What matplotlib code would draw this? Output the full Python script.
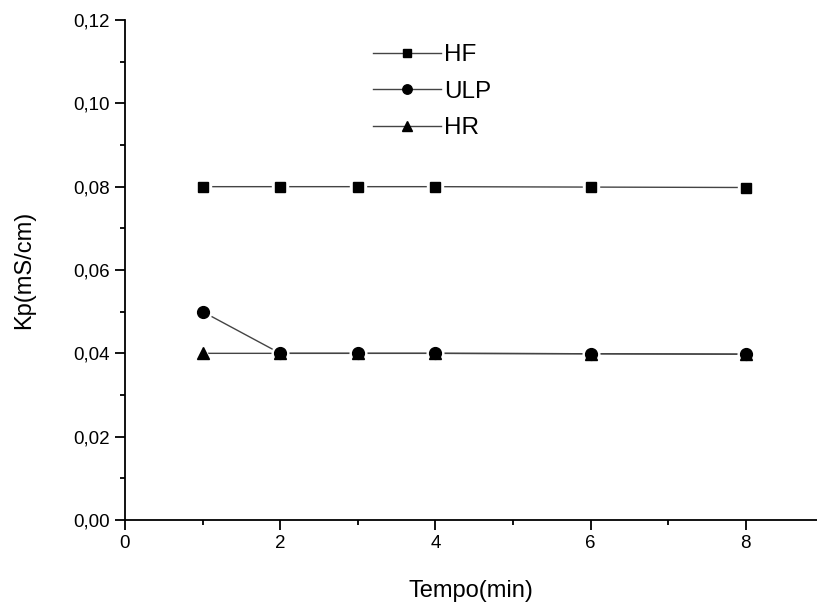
import matplotlib
matplotlib.use("Agg")
import matplotlib.pyplot as plt
from matplotlib.ticker import MultipleLocator, FuncFormatter

plt.rcParams['font.family'] = ['Liberation Sans', 'DejaVu Sans']

tempo = [1, 2, 3, 4, 6, 8]
hf = [0.0800, 0.0800, 0.0800, 0.0800, 0.0799, 0.0798]
ulp = [0.0500, 0.0400, 0.0400, 0.0400, 0.0399, 0.0398]
hr = [0.0400, 0.0400, 0.0400, 0.0400, 0.0399, 0.0398]
series = [("HF", hf, "s", 7.5), ("ULP", ulp, "o", 8.5), ("HR", hr, "^", 8.5)]

fig = plt.figure(figsize=(8.17, 6.05), dpi=100)
ax = fig.add_axes([125/817, 1 - 520/605, 692/817, 500/605])

line_color = "#444444"
handles = []
for name, vals, mk, ms in series:
    ax.plot(tempo, vals, '-', color=line_color, lw=1.0, zorder=2)
for name, vals, mk, ms in series:
    ax.plot(tempo, vals, linestyle='none', marker=mk, ms=ms + 3.5, color='white', zorder=3)
for name, vals, mk, ms in series[::-1]:
    ax.plot(tempo, vals, linestyle='none', marker=mk, ms=ms, color='black', zorder=4)
for name, vals, mk, ms in series:
    h, = ax.plot([], [], '-', color=line_color, lw=1.0, marker=mk, ms=ms * 0.8,
                 markerfacecolor='black', markeredgecolor='black', label=name)
    handles.append(h)

ax.set_xlim(0, 692/77.6)
ax.set_ylim(0, 0.12)
ax.xaxis.set_major_locator(MultipleLocator(2))
ax.xaxis.set_minor_locator(MultipleLocator(1))
ax.yaxis.set_major_locator(MultipleLocator(0.02))
ax.yaxis.set_minor_locator(MultipleLocator(0.01))
ax.yaxis.set_major_formatter(FuncFormatter(lambda v, p: f"{v:.2f}".replace('.', ',')))

for s in ['top', 'right']:
    ax.spines[s].set_visible(False)
for s in ['left', 'bottom']:
    ax.spines[s].set_linewidth(1.3)
    ax.spines[s].set_color('black')

ax.tick_params(which='major', direction='out', length=7, width=1.3, labelsize=13.5, pad=4)
ax.tick_params(which='minor', direction='out', length=3.5, width=1.3)

ax.set_xlabel("Tempo(min)", fontsize=17, labelpad=20)
ax.set_ylabel("Kp(mS/cm)", fontsize=17, labelpad=27)

leg = ax.legend(handles=handles, loc='upper left', bbox_to_anchor=(361/817, 1 - 32/605),
                bbox_transform=fig.transFigure, frameon=False, fontsize=17.5,
                handlelength=2.8, handletextpad=0.1, labelspacing=0.6, borderpad=0)

fig.savefig("out.png", dpi=100, facecolor='white')
